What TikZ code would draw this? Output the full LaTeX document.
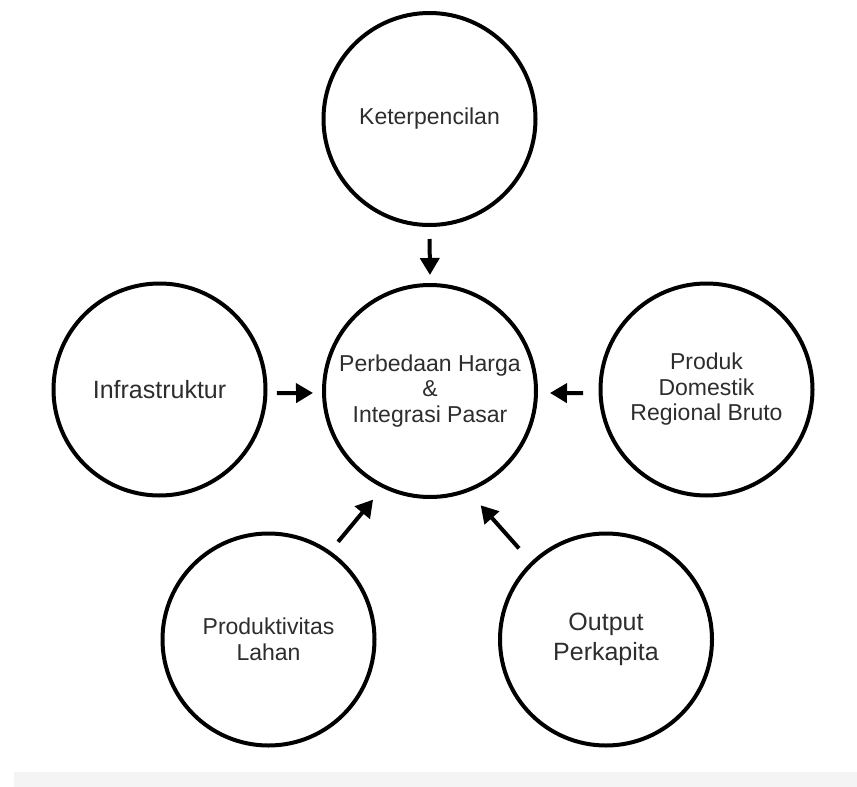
\documentclass[tikz,border=0pt]{standalone}
\usepackage{fontspec}
\setmainfont{Liberation Sans}
\usetikzlibrary{arrows.meta}
\definecolor{txt}{RGB}{45,45,45}
\definecolor{strip}{RGB}{244,244,244}
\begin{document}
\begin{tikzpicture}[x=1pt,y=-1pt,
  bubble/.style={circle,draw=black,line width=4pt,minimum size=212pt,inner sep=0pt,align=center,text=txt,font=\fontsize{23}{25.5}\selectfont},
  bigtext/.style={font=\fontsize{25}{29.5}\selectfont},
  link/.style={line width=4pt,-{Triangle[length=17pt,width=19pt]}}]
\useasboundingbox (0,0) rectangle (857,787);
\fill[white] (0,0) rectangle (857,787);
\fill[strip] (14,772) rectangle (857,787);

\node[bubble] (top) at (429.5,119) {\raisebox{-6pt}{Keterpencilan}};
\node[bubble] (c) at (430,391) {Perbedaan Harga\\\&\\Integrasi Pasar};
\node[bubble,bigtext] (l) at (159.5,389.5) {Infrastruktur};
\node[bubble] (r) at (706.5,389.5) {Produk\\Domestik\\Regional Bruto};
\node[bubble] (bl) at (268.5,639.5) {Produktivitas\\Lahan};
\node[bubble,bigtext] (br) at (606,639.5) {\raisebox{-4pt}{\begin{tabular}{@{}c@{}}Output\\[0pt]Perkapita\end{tabular}}};

\draw[link,shorten <=12pt,shorten >=8pt] (top.south) -- (c.north);
\draw[link,shorten <=9.5pt,shorten >=9pt] (l.-2.5) -- (c.181.6);
\draw[link,shorten <=15.5pt,shorten >=12pt] (r.182.4) -- (c.-1.6);
\draw[link,shorten <=12pt,shorten >=15pt] (bl.55.7) -- (c.244);
\draw[link,shorten <=18pt,shorten >=18pt] (br.134.5) -- (c.291.2);
\end{tikzpicture}
\end{document}
